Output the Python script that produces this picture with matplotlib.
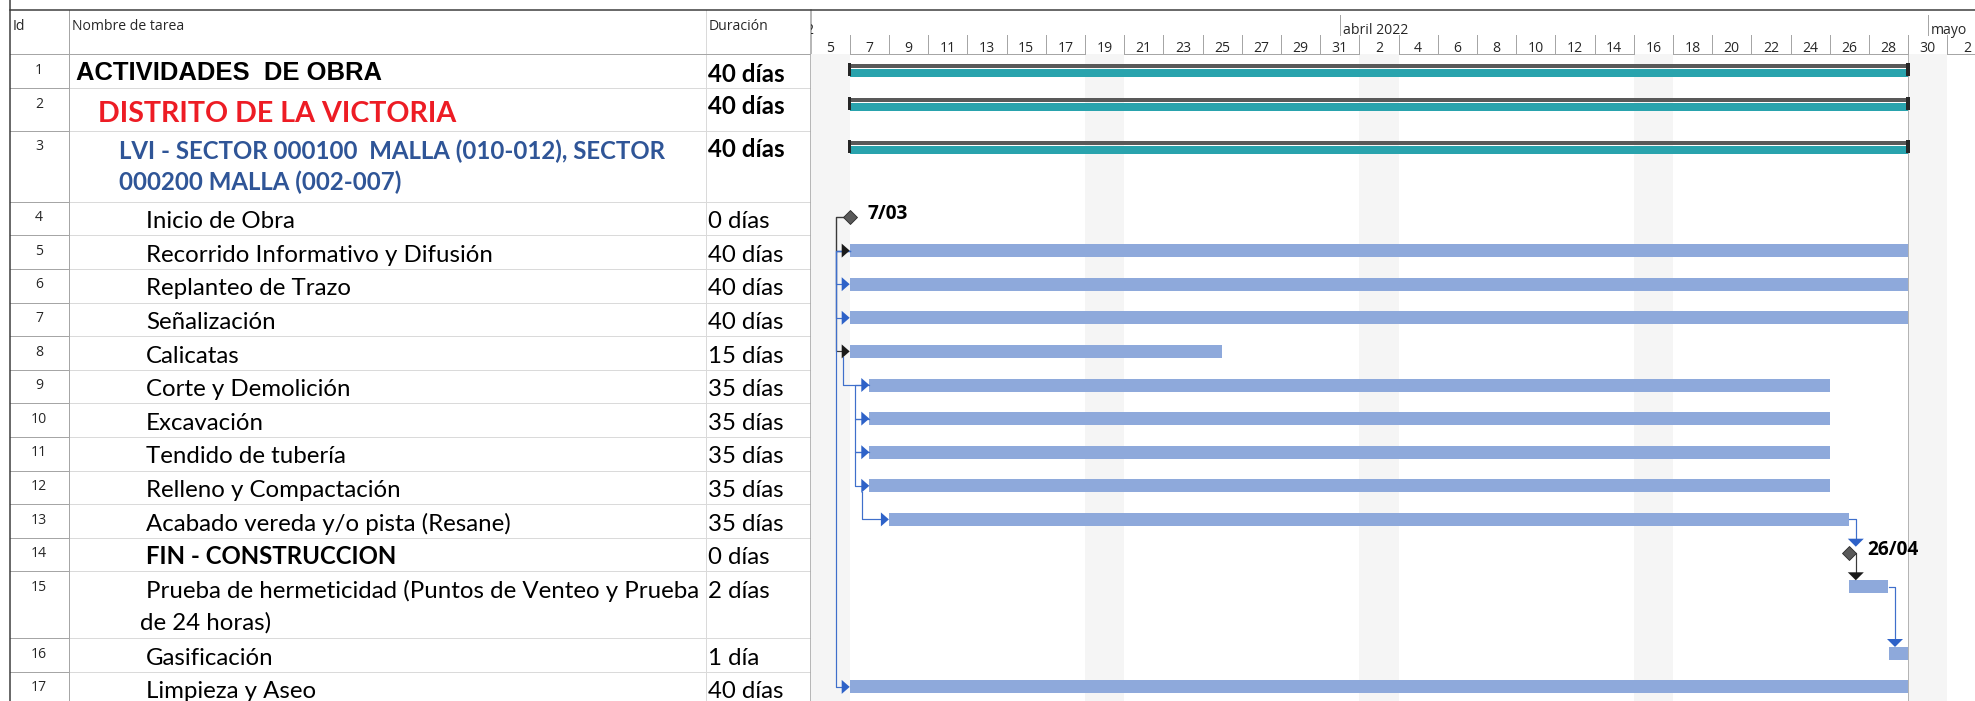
import matplotlib
matplotlib.use('Agg')
import matplotlib.pyplot as plt
import matplotlib.dates as mdates
from matplotlib.patches import Rectangle, Polygon
from datetime import datetime

# ---------------- data ----------------
ids = list(range(1, 18))
task_names = [
    "ACTIVIDADES  DE OBRA",
    "DISTRITO DE LA VICTORIA",
    "LVI - SECTOR 000100  MALLA (010-012), SECTOR\n000200 MALLA (002-007)",
    "Inicio de Obra",
    "Recorrido Informativo y Difusión",
    "Replanteo de Trazo",
    "Señalización",
    "Calicatas",
    "Corte y Demolición",
    "Excavación",
    "Tendido de tubería",
    "Relleno y Compactación",
    "Acabado vereda y/o pista (Resane)",
    "FIN - CONSTRUCCION",
    "Prueba de hermeticidad (Puntos de Venteo y Prueba\nde 24 horas)",
    "Gasificación",
    "Limpieza y Aseo",
]
durations = ["40 días", "40 días", "40 días", "0 días", "40 días", "40 días",
             "40 días", "15 días", "35 días", "35 días", "35 días", "35 días",
             "35 días", "0 días", "2 días", "1 día", "40 días"]
outline_level = [1, 2, 3, 4, 4, 4, 4, 4, 4, 4, 4, 4, 4, 4, 4, 4, 4]
kinds = ["summary", "summary", "summary", "milestone", "task", "task", "task",
         "task", "task", "task", "task", "task", "task", "milestone", "task",
         "task", "task"]
starts = ["2022-03-07", "2022-03-07", "2022-03-07", "2022-03-07", "2022-03-07",
          "2022-03-07", "2022-03-07", "2022-03-07", "2022-03-08", "2022-03-08",
          "2022-03-08", "2022-03-08", "2022-03-09", "2022-04-27", "2022-04-27",
          "2022-04-29", "2022-03-07"]
finishes = ["2022-04-30", "2022-04-30", "2022-04-30", "2022-03-07", "2022-04-30",
            "2022-04-30", "2022-04-30", "2022-03-26", "2022-04-26", "2022-04-26",
            "2022-04-26", "2022-04-26", "2022-04-27", "2022-04-27", "2022-04-29",
            "2022-04-30", "2022-04-30"]
milestone_labels = {4: "7/03", 14: "26/04"}
# (predecessor id, successor id, link type)
links = [(4, 5, "SS"), (4, 8, "SS"), (5, 6, "SS"), (5, 7, "SS"), (5, 17, "SS"),
         (8, 9, "SS"), (9, 10, "SS"), (10, 11, "SS"), (11, 12, "SS"),
         (12, 13, "SS"), (13, 14, "FS"), (14, 15, "FS"), (15, 16, "FS")]
header_cols = ["Id", "Nombre de tarea", "Duración"]
# the "marzo 2022" label is cut by the left edge: only its final "2" shows
month_labels = [("2022-03-01", "2"), ("2022-04-01", "abril 2022"),
                ("2022-05-01", "mayo")]
shaded_weekends = ["2022-03-05", "2022-03-19", "2022-04-02", "2022-04-16",
                   "2022-04-30"]
project_finish = "2022-04-30"

# ---------------- layout ----------------
W, H, DPI = 1975, 701, 100
PX = 72.0 / DPI  # px -> pt
fig = plt.figure(figsize=(W / DPI, H / DPI), dpi=DPI)
fig.patch.set_facecolor('white')

ax_t = fig.add_axes([0, 0, 1, 1])
ax_t.set_xlim(0, W)
ax_t.set_ylim(H, 0)
ax_t.axis('off')

GX0 = 810.5
PPD = 19.6  # pixels per day
ax_g = fig.add_axes([GX0 / W, 0, (W - GX0) / W, 1])
d0 = mdates.date2num(datetime(2022, 3, 5))
ax_g.set_xlim(d0, d0 + (W - GX0) / PPD)
ax_g.set_ylim(H, 0)
ax_g.axis('off')


def dn(s):
    return mdates.date2num(datetime.strptime(s, "%Y-%m-%d"))


def px(p):
    return p / PPD


HDR_TOP, HDR_BOT = 9.5, 54.0
row_h = [34, 42.5, 71.2] + [33.6] * 11 + [66.7, 33.6, 33.6]
tops = []
y = HDR_BOT
for h in row_h:
    tops.append(y)
    y += h

F_UI = 'Open Sans'
F_TXT = 'Lato'

# ---------------- table grid ----------------
GRID_DARK = '#3A3A3A'
GRID_MID = '#A6A6A6'
GRID_LIGHT = '#DADADA'
X_ID, X_NAME, X_DUR, X_G = 9.5, 68.5, 706.0, 811.0

for i, t in enumerate(tops):
    yb = t + row_h[i]
    ax_t.plot([X_ID, X_NAME], [yb, yb], color=GRID_MID, lw=1 * PX, zorder=2)
    ax_t.plot([X_NAME, X_G], [yb, yb], color=GRID_LIGHT, lw=1 * PX, zorder=2)

ax_t.plot([X_NAME, X_NAME], [HDR_TOP, H], color=GRID_MID, lw=1 * PX, zorder=3)
ax_t.plot([X_DUR, X_DUR], [HDR_TOP, H], color=GRID_LIGHT, lw=1 * PX, zorder=3)
ax_t.plot([X_G, X_G], [HDR_TOP, H], color=GRID_MID, lw=1.6 * PX, zorder=3)
ax_t.plot([X_ID, W], [HDR_BOT, HDR_BOT], color=GRID_MID, lw=1 * PX, zorder=3)
ax_t.plot([X_ID, W], [HDR_TOP, HDR_TOP], color=GRID_DARK, lw=1.5 * PX, zorder=4)
ax_t.plot([X_ID, X_ID], [0, H], color=GRID_DARK, lw=1.5 * PX, zorder=4)

# header labels
for x, lab in zip([13, 72, 709], header_cols):
    ax_t.text(x, 29.5, lab, ha='left', va='baseline', fontsize=14 * PX,
              family=F_UI, color='#262626')

# rows text
for i, t in enumerate(tops):
    lvl = outline_level[i]
    ax_t.text(39, t + 19.5, str(ids[i]), ha='center', va='baseline',
              fontsize=14 * PX, family=F_UI, color='#262626')
    lines = task_names[i].split("\n")
    if lvl == 1:
        st = dict(family='Liberation Sans', fontweight='bold',
                  fontsize=25.6 * PX, color='black')
        x, base, lsp = 76, t + 26.0, 0
    elif lvl == 2:
        st = dict(family=F_TXT, fontweight='bold', fontsize=28.6 * PX,
                  color='#ED1C24')
        x, base, lsp = 98, t + 33.5, 0
    elif lvl == 3:
        st = dict(family=F_TXT, fontweight='bold', fontsize=24 * PX,
                  color='#2F5597')
        x, base, lsp = 119, t + 28.3, 31.7
    else:
        bold = kinds[i] == "milestone" and i > 3
        st = dict(family=F_TXT, fontweight='bold' if bold else 'normal',
                  fontsize=24 * PX, color='black')
        x, base, lsp = 146, t + 26.5, 31.7
    for k, ln in enumerate(lines):
        xx = x if (k == 0 or lvl < 4) else x - 6
        ax_t.text(xx, base + k * lsp, ln, ha='left', va='baseline', **st)
    dst = dict(family=F_TXT, fontsize=24 * PX, color='black',
               fontweight='bold' if lvl < 4 else 'normal')
    dbase = {1: t + 27.5, 2: t + 25.5, 3: t + 26.7}.get(lvl, t + 26.5)
    ax_t.text(708, dbase, durations[i], ha='left', va='baseline', **dst)

# ---------------- gantt background ----------------
for s in shaded_weekends:
    ax_g.add_patch(Rectangle((dn(s), HDR_BOT), 2, H - HDR_BOT,
                             facecolor='#F5F5F5', edgecolor='none', zorder=0))
ax_g.plot([dn(project_finish)] * 2, [HDR_BOT, H], color='#B4B4B4',
          lw=1 * PX, zorder=1)

# timescale
x_end = d0 + (W - GX0) / PPD
d = d0
while d < x_end:
    if d > d0:
        ax_g.plot([d, d], [35, HDR_BOT], color=GRID_MID, lw=1 * PX, zorder=2)
    lab = mdates.num2date(d).day
    ax_g.text(d + 1, 52.5, str(lab), ha='center', va='baseline',
              fontsize=14 * PX, family=F_UI, color='#262626', clip_on=True)
    d += 2
for s, lab in month_labels:
    xm = dn(s)
    if xm > d0:
        ax_g.plot([xm, xm], [15, 35], color=GRID_MID, lw=1 * PX, zorder=2)
        ax_g.text(xm + px(3), 34.3, lab, ha='left', va='baseline',
                  fontsize=14 * PX, family=F_UI, color='#262626', clip_on=True)
    else:
        ax_g.text(d0 + px(2.5), 34.3, lab, ha='right', va='baseline',
                  fontsize=14 * PX, family=F_UI, color='#262626', clip_on=True)

# ---------------- bars ----------------
BAR_BLUE = '#8EA9DB'
TEAL = '#29A3AD'
SUM_GRAY = '#595959'
LINK_BLUE = '#3F6FCB'
ARROW_BLUE = '#2E62C8'
LINK_BLACK = '#3A3A3A'

bar_cy = {}
bar_x = {}
for i, t in enumerate(tops):
    s, f = dn(starts[i]), dn(finishes[i])
    bar_x[ids[i]] = (s, f)
    cy = t + 15.3
    bar_cy[ids[i]] = cy
    if kinds[i] == "summary":
        ax_g.barh(t + 12, f - s, left=s, height=4, color=SUM_GRAY, zorder=3)
        ax_g.barh(t + 19, f - s, left=s, height=8, color=TEAL, zorder=3)
        for xc in (s, f):
            ax_g.barh(t + 15.7, px(3.5), left=xc - px(1.75), height=13,
                      color='#262626', zorder=4)
    elif kinds[i] == "task":
        ax_g.barh(cy, f - s, left=s, height=13, color=BAR_BLUE, zorder=3)
    else:
        ax_g.plot([s], [cy], marker='D', markersize=7.6, color='#595959',
                  markeredgecolor='#2A2A2A', markeredgewidth=0.6, zorder=6)
        ax_g.text(s + px(18), t + 17.5, milestone_labels[ids[i]], ha='left',
                  va='baseline', fontsize=19 * PX, family=F_UI,
                  fontweight='bold', color='black', zorder=6)


# ---------------- links ----------------
def arrow_right(xtip, cy, color):
    ax_g.add_patch(Polygon([(xtip, cy), (xtip - px(8), cy - 7),
                            (xtip - px(8), cy + 7)], closed=True,
                           facecolor=color, edgecolor='none', zorder=7))


def arrow_down(x, ytip, color):
    ax_g.add_patch(Polygon([(x, ytip), (x - px(8), ytip - 8),
                            (x + px(8), ytip - 8)], closed=True,
                           facecolor=color, edgecolor='none', zorder=7))


kind_of = dict(zip(ids, kinds))
top_of = dict(zip(ids, tops))
for p, q, typ in links:
    black = kind_of[p] == "milestone"
    lc = LINK_BLACK if black else LINK_BLUE
    ac = '#1A1A1A' if black else ARROW_BLUE
    ps, pf = bar_x[p]
    qs, qf = bar_x[q]
    pcy, qcy = bar_cy[p], bar_cy[q]
    if typ == "SS":
        if abs(qs - ps) < 1e-6:
            xs = [ps - px(5 if black else 0), ps - px(14), ps - px(14), qs - px(7)]
            ys = [pcy, pcy, qcy, qcy]
        else:
            xs = [ps - px(7), ps - px(7), qs - px(7)]
            ys = [pcy + 6, qcy, qcy]
        ax_g.plot(xs, ys, color=lc, lw=1.2 * PX, zorder=5,
                  solid_joinstyle='round')
        arrow_right(qs, qcy, ac)
    else:
        xl = pf + px(6.5)
        ytip = top_of[q] + 9
        ax_g.plot([pf, xl, xl], [pcy, pcy, ytip - 6], color=lc, lw=1.2 * PX,
                  zorder=5)
        arrow_down(xl, ytip, ac)

fig.savefig('out.png', dpi=DPI, facecolor='white')
